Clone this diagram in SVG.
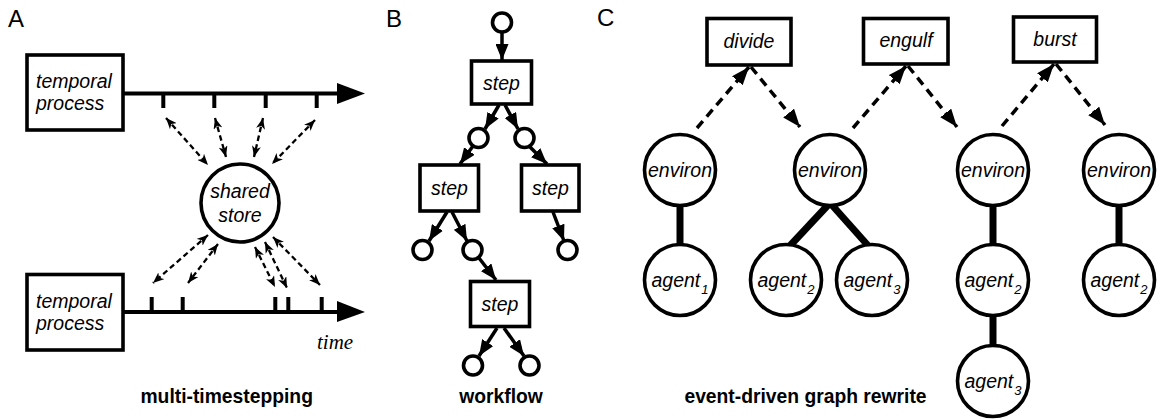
<svg xmlns="http://www.w3.org/2000/svg" width="1160" height="419" viewBox="0 0 1160 419">
<defs>
<style>
.bg{fill:#fff}
.box{fill:#fff;stroke:#000;stroke-width:3.6}
.node{fill:#fff;stroke:#000;stroke-width:3.6}
.it{font-family:"Liberation Sans",Arial,sans-serif;font-style:italic;font-size:19.5px;fill:#000}
.sub{font-size:13px}
.title{font-family:"Liberation Sans",Arial,sans-serif;font-weight:bold;font-size:19.3px;fill:#000;text-anchor:middle}
.panel{font-family:"Liberation Sans",Arial,sans-serif;font-size:24px;fill:#000}
.time{font-family:"Liberation Serif","Times New Roman",serif;font-style:italic;font-size:21px;fill:#000}
.axis{stroke:#000;stroke-width:4;fill:none}
.tick{stroke:#000;stroke-width:4}
.dashA{stroke:#000;stroke-width:2.3;stroke-dasharray:5.5 3.5;fill:none;marker-start:url(#mA);marker-end:url(#mA)}
.solid{stroke:#000;stroke-width:3.5;fill:none;marker-end:url(#mB)}
.dashC{stroke:#000;stroke-width:3.5;stroke-dasharray:9 6;fill:none;marker-end:url(#mC)}
.thick{stroke:#000;stroke-width:7;fill:none}
</style>
<marker id="mA" viewBox="0 0 11 9" refX="11" refY="4.5" markerWidth="11" markerHeight="9" markerUnits="userSpaceOnUse" orient="auto-start-reverse">
<path d="M0,0 L11,4.5 L0,9 L3,4.5 Z" fill="#000"/>
</marker>
<marker id="mB" viewBox="0 0 16 13" refX="16" refY="6.5" markerWidth="16" markerHeight="13" markerUnits="userSpaceOnUse" orient="auto">
<path d="M0,0 L16,6.5 L0,13 Z" fill="#000"/>
</marker>
<marker id="mC" viewBox="0 0 18 14" refX="18" refY="7" markerWidth="18" markerHeight="14" markerUnits="userSpaceOnUse" orient="auto">
<path d="M0,0 L18,7 L0,14 Z" fill="#000"/>
</marker>
</defs>
<rect class="bg" x="0" y="0" width="1160" height="419"/>

<g id="panel-labels">
<text class="panel" x="8" y="27">A</text>
<text class="panel" x="386" y="27">B</text>
<text class="panel" x="597" y="26">C</text>
</g>

<g id="connectors">
<!-- Panel A timelines -->
<line class="axis" x1="123" y1="93.5" x2="340" y2="93.5"/>
<polygon points="337,83 365,93.5 337,104" fill="#000"/>
<line class="tick" x1="163.3" y1="93.5" x2="163.3" y2="108"/>
<line class="tick" x1="214.3" y1="93.5" x2="214.3" y2="108"/>
<line class="tick" x1="265.7" y1="93.5" x2="265.7" y2="108"/>
<line class="tick" x1="316.7" y1="93.5" x2="316.7" y2="108"/>
<line class="axis" x1="123" y1="312" x2="340" y2="312"/>
<polygon points="337,301 365,312 337,322" fill="#000"/>
<line class="tick" x1="151.7" y1="297" x2="151.7" y2="312"/>
<line class="tick" x1="182.7" y1="297" x2="182.7" y2="312"/>
<line class="tick" x1="275.3" y1="297" x2="275.3" y2="312"/>
<line class="tick" x1="288.3" y1="297" x2="288.3" y2="312"/>
<line class="tick" x1="321.7" y1="297" x2="321.7" y2="312"/>
<!-- Panel A dashed exchanges -->
<line class="dashA" x1="166" y1="118" x2="208" y2="165"/>
<line class="dashA" x1="215" y1="118" x2="226" y2="157"/>
<line class="dashA" x1="263" y1="118" x2="254" y2="157"/>
<line class="dashA" x1="315" y1="120" x2="272" y2="164"/>
<line class="dashA" x1="208" y1="235" x2="153" y2="283"/>
<line class="dashA" x1="218" y1="244" x2="188" y2="283"/>
<line class="dashA" x1="255" y1="247" x2="275" y2="287"/>
<line class="dashA" x1="265" y1="242" x2="287" y2="288"/>
<line class="dashA" x1="273" y1="237" x2="320" y2="285"/>
<!-- Panel B workflow -->
<line class="solid" x1="502" y1="33" x2="502" y2="60"/>
<line class="solid" x1="499" y1="105" x2="485" y2="129"/>
<line class="solid" x1="505" y1="105" x2="518" y2="129"/>
<line class="solid" x1="473" y1="146" x2="460" y2="164"/>
<line class="solid" x1="529" y1="146" x2="547" y2="164"/>
<line class="solid" x1="447" y1="212" x2="429" y2="241"/>
<line class="solid" x1="452" y1="212" x2="467" y2="241"/>
<line class="solid" x1="553" y1="212" x2="564" y2="241"/>
<line class="solid" x1="479" y1="258" x2="496" y2="280"/>
<line class="solid" x1="497" y1="328" x2="479" y2="356"/>
<line class="solid" x1="504" y1="328" x2="524" y2="356"/>
<!-- Panel C structural edges -->
<line class="thick" x1="680" y1="200" x2="680" y2="250"/>
<line class="thick" x1="829" y1="204" x2="786" y2="250"/>
<line class="thick" x1="831" y1="204" x2="872" y2="250"/>
<line class="thick" x1="993" y1="200" x2="993" y2="250"/>
<line class="thick" x1="993" y1="300" x2="993" y2="350"/>
<line class="thick" x1="1119" y1="200" x2="1119" y2="250"/>
<!-- Panel C event arrows -->
<line class="dashC" x1="697" y1="128" x2="749" y2="67"/>
<line class="dashC" x1="751" y1="67" x2="800" y2="127"/>
<line class="dashC" x1="853" y1="128" x2="906" y2="66"/>
<line class="dashC" x1="908" y1="66" x2="957" y2="127"/>
<line class="dashC" x1="1002" y1="126" x2="1054" y2="64"/>
<line class="dashC" x1="1056" y1="64" x2="1105" y2="125"/>
</g>

<!-- Panel A nodes -->
<g id="temporal-process-1">
<rect class="box" x="27" y="55" width="96" height="75"/>
<text class="it" x="36" y="88.3">temporal</text>
<text class="it" x="36" y="110">process</text>
</g>
<g id="temporal-process-2">
<rect class="box" x="27" y="274.5" width="96" height="75.5"/>
<text class="it" x="36" y="308.3">temporal</text>
<text class="it" x="36" y="330">process</text>
</g>
<g id="shared-store">
<circle class="node" cx="240" cy="203" r="39"/>
<text class="it" x="240" y="198.3" text-anchor="middle">shared</text>
<text class="it" x="240" y="221.7" text-anchor="middle">store</text>
</g>
<g id="time-label">
<text class="time" x="317" y="349">time</text>
</g>

<!-- Panel B nodes -->
<g id="b-in"><circle class="node" cx="502" cy="22.5" r="9.5"/></g>
<g id="b-step1">
<rect class="box" x="471.5" y="61" width="60" height="43"/>
<text class="it" x="501.5" y="89.5" text-anchor="middle">step</text>
</g>
<g id="b-c1"><circle class="node" cx="478.5" cy="138" r="9.5"/></g>
<g id="b-c2"><circle class="node" cx="524.5" cy="138" r="9.5"/></g>
<g id="b-step2">
<rect class="box" x="420" y="165" width="58.5" height="46"/>
<text class="it" x="449.5" y="194.5" text-anchor="middle">step</text>
</g>
<g id="b-step3">
<rect class="box" x="521.5" y="165" width="57.5" height="46"/>
<text class="it" x="550.5" y="194.5" text-anchor="middle">step</text>
</g>
<g id="b-c3"><circle class="node" cx="422.5" cy="250" r="9.5"/></g>
<g id="b-c4"><circle class="node" cx="472.5" cy="250" r="9.5"/></g>
<g id="b-c5"><circle class="node" cx="567.5" cy="250" r="9.5"/></g>
<g id="b-step4">
<rect class="box" x="470.5" y="281.5" width="59" height="45"/>
<text class="it" x="500" y="310.5" text-anchor="middle">step</text>
</g>
<g id="b-c6"><circle class="node" cx="473" cy="365.5" r="9.5"/></g>
<g id="b-c7"><circle class="node" cx="529.5" cy="365.5" r="9.5"/></g>

<!-- Panel C nodes -->
<g id="c-divide">
<rect class="box" x="707" y="18.5" width="84" height="46.5"/>
<text class="it" x="749" y="48.3" text-anchor="middle">divide</text>
</g>
<g id="c-engulf">
<rect class="box" x="863.5" y="18.5" width="84.5" height="45.5"/>
<text class="it" x="906" y="47" text-anchor="middle">engulf</text>
</g>
<g id="c-burst">
<rect class="box" x="1013.5" y="17" width="83" height="45"/>
<text class="it" x="1055" y="46" text-anchor="middle">burst</text>
</g>
<g id="c-environ1">
<circle class="node" cx="680" cy="170" r="35.5"/>
<text class="it" x="680" y="177" text-anchor="middle">environ</text>
</g>
<g id="c-environ2">
<circle class="node" cx="830" cy="170" r="35.5"/>
<text class="it" x="830" y="177" text-anchor="middle">environ</text>
</g>
<g id="c-environ3">
<circle class="node" cx="993" cy="170" r="35.5"/>
<text class="it" x="993" y="177" text-anchor="middle">environ</text>
</g>
<g id="c-environ4">
<circle class="node" cx="1119" cy="170" r="35.5"/>
<text class="it" x="1119" y="177" text-anchor="middle">environ</text>
</g>
<g id="c-agent1">
<circle class="node" cx="680" cy="280" r="35.5"/>
<text class="it" x="680" y="287.3" text-anchor="middle">agent<tspan class="sub" dx="1" dy="7">1</tspan></text>
</g>
<g id="c-agent2a">
<circle class="node" cx="786" cy="280" r="35.5"/>
<text class="it" x="786" y="287.3" text-anchor="middle">agent<tspan class="sub" dx="1" dy="7">2</tspan></text>
</g>
<g id="c-agent3a">
<circle class="node" cx="872" cy="280" r="35.5"/>
<text class="it" x="872" y="287.3" text-anchor="middle">agent<tspan class="sub" dx="1" dy="7">3</tspan></text>
</g>
<g id="c-agent2b">
<circle class="node" cx="993" cy="280" r="35.5"/>
<text class="it" x="993" y="287.3" text-anchor="middle">agent<tspan class="sub" dx="1" dy="7">2</tspan></text>
</g>
<g id="c-agent3b">
<circle class="node" cx="993" cy="381" r="35.5"/>
<text class="it" x="993" y="388.3" text-anchor="middle">agent<tspan class="sub" dx="1" dy="7">3</tspan></text>
</g>
<g id="c-agent2c">
<circle class="node" cx="1119" cy="280" r="35.5"/>
<text class="it" x="1119" y="287.3" text-anchor="middle">agent<tspan class="sub" dx="1" dy="7">2</tspan></text>
</g>

<g id="titles">
<text class="title" x="226.7" y="403.3">multi-timestepping</text>
<text class="title" x="501" y="403.3">workflow</text>
<text class="title" x="805.5" y="403.3">event-driven graph rewrite</text>
</g>
</svg>
